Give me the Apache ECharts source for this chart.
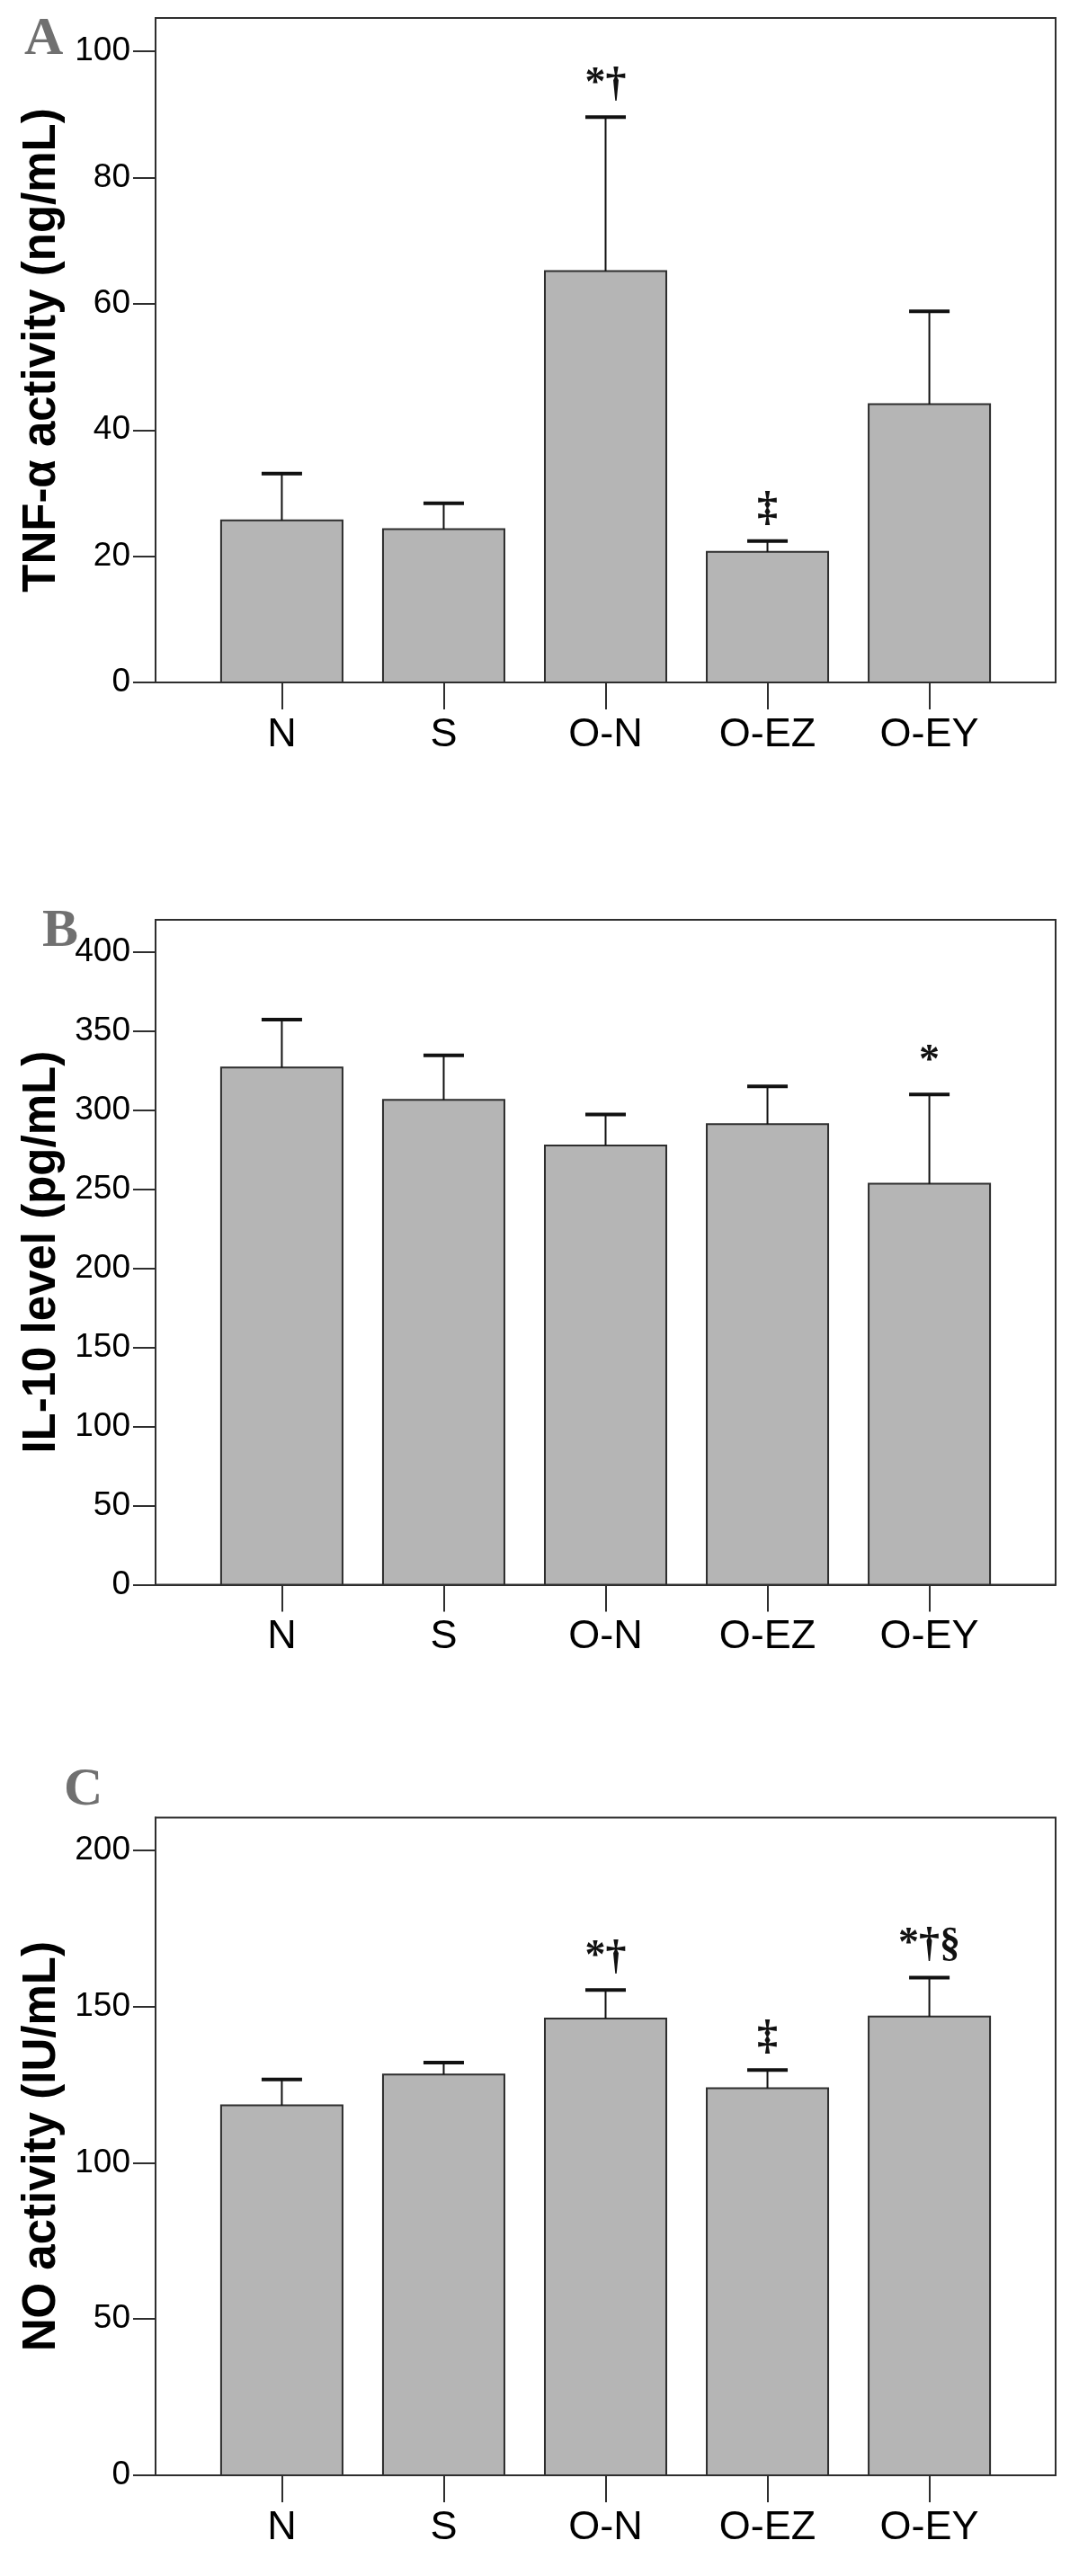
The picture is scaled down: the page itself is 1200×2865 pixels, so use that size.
<!DOCTYPE html>
<html><head><meta charset="utf-8">
<script src="https://cdn.jsdelivr.net/npm/echarts@6/dist/echarts.min.js"></script>
<style>html,body{margin:0;padding:0;background:#fff}#c{width:1200px;height:2865px}</style>
</head><body><div id="c"></div>
<script>
// ---- data ----
const categories = ['N', 'S', 'O-N', 'O-EZ', 'O-EY'];

const tnfMean = [25.7, 24.3, 65.2, 20.7, 44.1];
const tnfSD   = [7.4, 4.1, 24.4, 1.7, 14.7];
const tnfNotes = ['', '', '*†', '‡', ''];
const tnfTicks = [0, 20, 40, 60, 80, 100];

const il10Mean = [327.2, 306.7, 277.9, 291.4, 253.6];
const il10SD   = [30.3, 28.2, 19.5, 23.8, 56.5];
const il10Notes = ['', '', '', '', '*'];
const il10Ticks = [0, 50, 100, 150, 200, 250, 300, 350, 400];

const noMean = [118.4, 128.3, 146.2, 123.9, 146.8];
const noSD   = [8.3, 3.8, 9.1, 5.8, 12.5];
const noNotes = ['', '', '*†', '‡', '*†§'];
const noTicks = [0, 50, 100, 150, 200];

const yTitles = ['TNF-α activity (ng/mL)', 'IL-10 level (pg/mL)', 'NO activity (IU/mL)'];
const panelLetters = ['A', 'B', 'C'];

// ---- layout ----
const SANS = 'Liberation Sans, Arial, Helvetica, sans-serif';
const SERIF = 'Liberation Serif, Times New Roman, serif';
const DARK = '#2e2e2e';
const catPos = categories.map((c, i) => i + 1);

const panels = [
  {top: 20,   height: 739,   max: 105.3, ticks: tnfTicks,  mean: tnfMean,  sd: tnfSD,  notes: tnfNotes},
  {top: 1023, height: 739.5, max: 420.6, ticks: il10Ticks, mean: il10Mean, sd: il10SD, notes: il10Notes},
  {top: 2021.5, height: 731.5, max: 210.5, ticks: noTicks, mean: noMean,   sd: noSD,   notes: noNotes}
];

const grids = [], xAxes = [], yAxes = [], series = [];
panels.forEach((p, i) => {
  grids.push({left: 173, width: 1001, top: p.top, height: p.height, show: true,
    borderColor: DARK, borderWidth: 2, backgroundColor: 'transparent', containLabel: false});
  xAxes.push({type: 'value', gridIndex: i, min: 0.22, max: 5.78,
    axisLine: {show: true, onZero: false, lineStyle: {color: DARK, width: 2}},
    splitLine: {show: false},
    axisTick: {show: true, customValues: catPos, length: 30, lineStyle: {color: DARK, width: 2}},
    axisLabel: {customValues: catPos, formatter: v => categories[Math.round(v) - 1],
      fontSize: 45, margin: 36, color: '#000', fontFamily: SANS}});
  yAxes.push({type: 'value', gridIndex: i, min: 0, max: p.max,
    axisLine: {show: true, lineStyle: {color: DARK, width: 2}},
    splitLine: {show: false},
    axisTick: {show: true, customValues: p.ticks, length: 25, lineStyle: {color: DARK, width: 2}},
    axisLabel: {customValues: p.ticks, fontSize: 37, margin: 28, color: '#000', fontFamily: SANS},
    name: yTitles[i], nameLocation: 'middle', nameGap: 85,
    nameTextStyle: {fontSize: 51, fontWeight: 'bold', color: '#000', fontFamily: SANS}});
  const data = p.mean.map((m, k) => [catPos[k], m, m + p.sd[k]]);
  const notes = p.notes;
  series.push({type: 'custom', xAxisIndex: i, yAxisIndex: i, data: data,
    encode: {x: 0, y: [1, 2]}, silent: true,
    renderItem: function (params, api) {
      const x = api.value(0), m = api.value(1), hi = api.value(2);
      const bl = api.coord([x - 0.375, 0]);
      const tr = api.coord([x + 0.375, m]);
      const c = api.coord([x, m]);
      const t = api.coord([x, hi]);
      const cl = api.coord([x - 0.125, hi]);
      const cr = api.coord([x + 0.125, hi]);
      const children = [
        {type: 'rect', shape: {x: bl[0], y: tr[1], width: tr[0] - bl[0], height: bl[1] - tr[1]},
          style: {fill: '#b5b5b5', stroke: DARK, lineWidth: 2}},
        {type: 'line', shape: {x1: c[0], y1: c[1], x2: t[0], y2: t[1]},
          style: {stroke: '#111', lineWidth: 2}},
        {type: 'line', shape: {x1: cl[0], y1: cl[1], x2: cr[0], y2: cr[1]},
          style: {stroke: '#111', lineWidth: 4}}
      ];
      const note = notes[params.dataIndex];
      if (note) {
        children.push({type: 'text', x: t[0], y: t[1] - 13,
          style: {text: note, fill: '#111', font: 'bold 46px ' + SERIF, align: 'center', verticalAlign: 'bottom'}});
      }
      return {type: 'group', children: children};
    }});
});

const letterPos = [[27, 14], [47, 1006], [71, 1961]];
const graphics = panelLetters.map((L, i) => ({type: 'text', left: letterPos[i][0], top: letterPos[i][1],
  style: {text: L, fill: '#707070', font: 'bold 60px ' + SERIF}}));

const chart = echarts.init(document.getElementById('c'), null, {renderer: 'canvas'});
chart.setOption({animation: false, backgroundColor: '#fff',
  grid: grids, xAxis: xAxes, yAxis: yAxes, series: series, graphic: graphics});
</script></body></html>
